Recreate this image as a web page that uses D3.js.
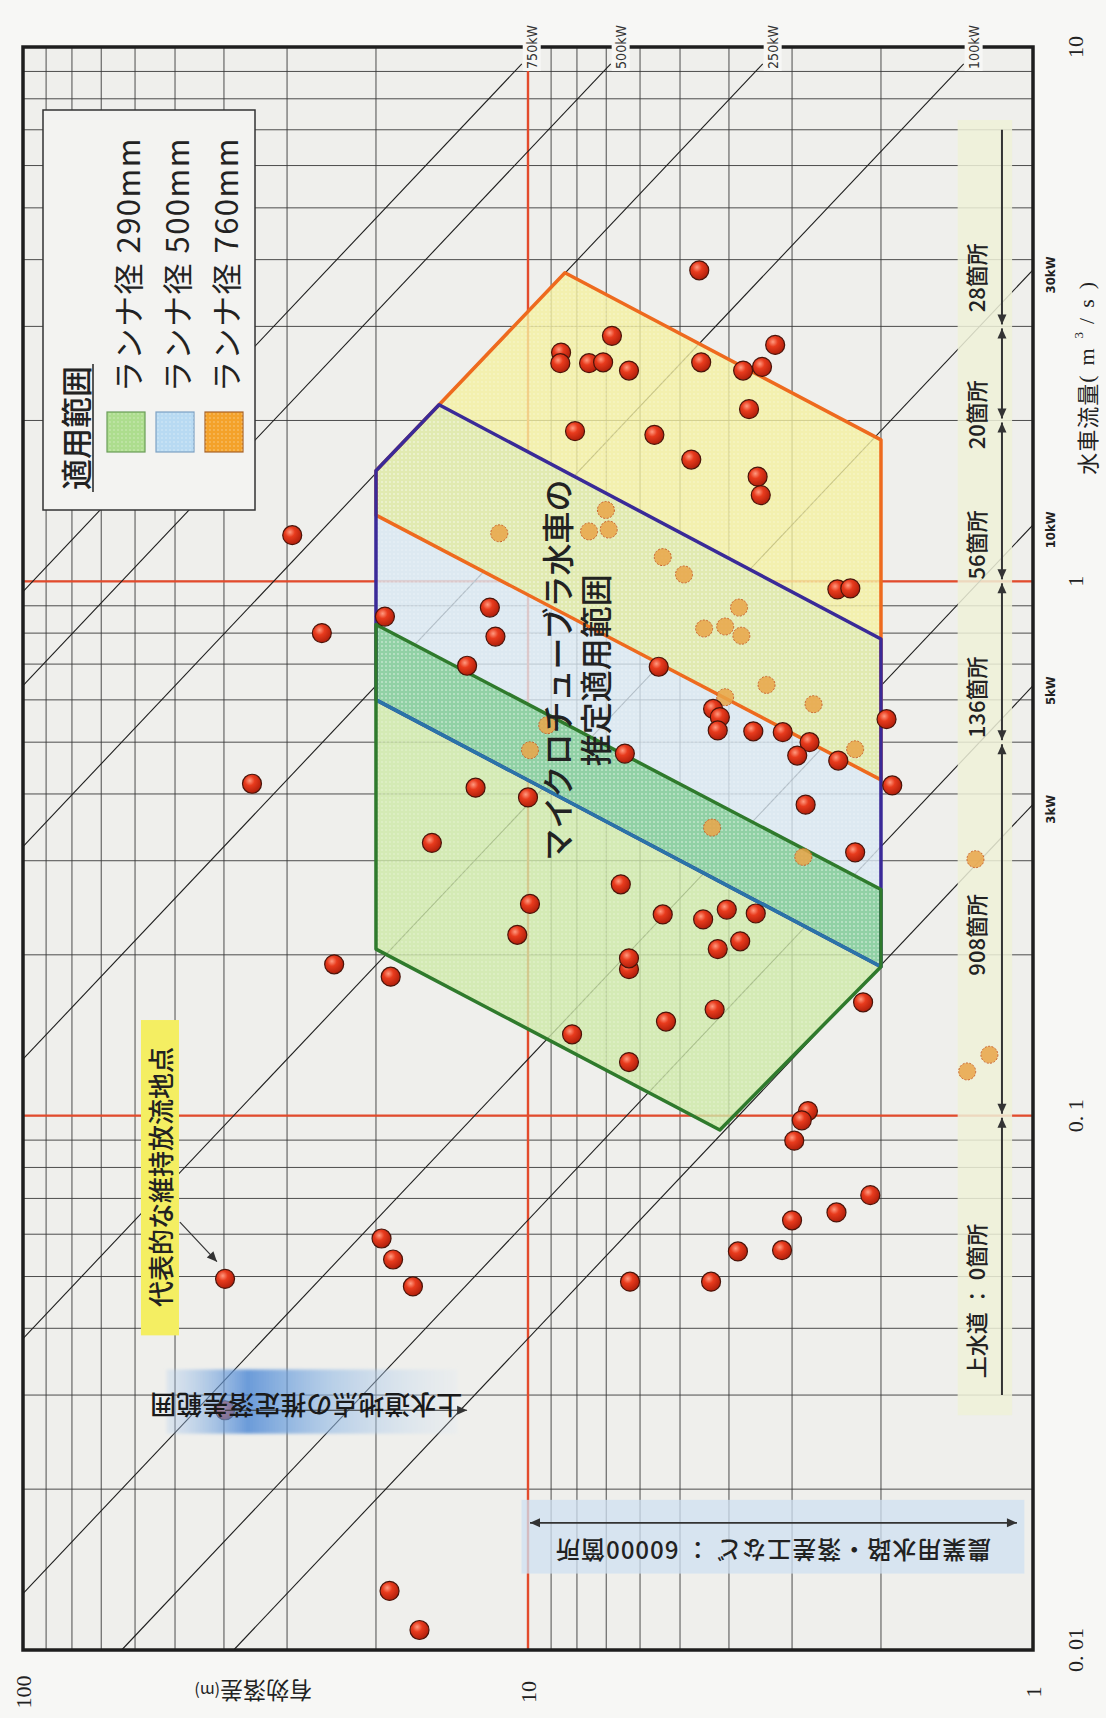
<!DOCTYPE html>
<html>
<head>
<meta charset="utf-8">
<script src="https://cdn.jsdelivr.net/npm/d3@7"></script>
<style>
  body { margin: 0; background: #f7f7f5; }
  svg { display: block; }
</style>
</head>
<body>
<svg id="chart" width="1106" height="1718"></svg>
<script>
// ---- data: head H (m), flow Q (m3/s) ----
const flowTicks = [10, 1, 0.1, 0.01];
const flowTickLabels = ["10", "1", "0. 1", "0. 01"];
const headTicks = [100, 10, 1];
const headTickLabels = ["100", "10", "1"];
const flowRedLines = [1, 0.1];
const headRedLines = [10];

// iso-power lines, P = 9.8 * 0.8 * Q * H
const powerValues = [750, 500, 250, 100, 30, 10, 5, 3];
const powerLabels = ["750kW", "500kW", "250kW", "100kW", "30kW", "10kW", "5kW", "3kW"];

// runner ranges, vertices as [H, Q]
const area760 = [[20, 1.33], [20, 1.61], [15, 2.14], [8.45, 3.78], [2, 1.84], [2, 0.425]];
const area500 = [[20, 1.61], [15, 2.14], [2, 0.78], [2, 0.19], [20, 0.60]];
const area290 = [[20, 0.83], [2, 0.265], [2, 0.19], [4.17, 0.094], [20, 0.205]];
const overlap760_500 = [[20, 1.33], [20, 1.61], [15, 2.14], [2, 0.78], [2, 0.425]];
const overlap290_500 = [[20, 0.83], [2, 0.265], [2, 0.19], [20, 0.60]];
const legendNames = ["ランナ径 290mm", "ランナ径 500mm", "ランナ径 760mm"];

// surveyed sites [H, Q]
const sitePoints = [
  [29.3, 1.22], [25.6, 0.80], [35.2, 0.418], [24.2, 0.192], [18.7, 0.182],
  [19.5, 0.0589], [18.5, 0.0538], [16.9, 0.0479], [39.8, 0.0495], [39.8, 0.0281],
  [18.8, 0.0129], [16.4, 0.0109], [4.58, 3.82], [6.82, 2.88], [8.60, 2.68],
  [8.63, 2.56], [7.57, 2.56], [7.10, 2.57], [6.31, 2.48], [4.54, 2.57],
  [3.75, 2.48], [3.44, 2.52], [3.24, 2.77], [3.65, 2.10], [8.07, 1.91],
  [5.62, 1.88], [4.75, 1.69], [3.51, 1.57], [3.46, 1.45], [2.44, 0.966],
  [2.30, 0.97], [19.2, 0.859], [11.9, 0.893], [11.6, 0.788], [13.2, 0.695],
  [12.7, 0.411], [10.0, 0.394], [15.5, 0.324], [9.91, 0.249], [10.5, 0.218],
  [5.51, 0.692], [4.30, 0.577], [4.17, 0.557], [4.21, 0.526], [3.58, 0.524],
  [3.13, 0.522], [2.77, 0.500], [2.93, 0.472], [2.43, 0.462], [1.95, 0.552],
  [1.90, 0.415], [6.43, 0.476], [2.82, 0.382], [2.25, 0.311], [6.55, 0.271],
  [5.41, 0.238], [4.50, 0.233], [4.04, 0.243], [3.54, 0.239], [6.31, 0.188],
  [6.31, 0.197], [8.18, 0.142], [6.31, 0.126], [6.28, 0.0489], [3.80, 0.212],
  [4.21, 0.205], [4.27, 0.158], [5.33, 0.150], [2.17, 0.163], [2.79, 0.102],
  [2.87, 0.098], [2.97, 0.0898], [2.10, 0.0710], [2.45, 0.0659], [3.00, 0.0637],
  [3.84, 0.0557], [3.14, 0.0560], [4.34, 0.0489]
];
const shadedPoints = [
  [11.4, 1.23], [7.01, 1.36], [7.57, 1.24], [6.92, 1.25], [5.41, 1.11],
  [4.91, 1.03], [9.16, 0.538], [9.91, 0.483], [3.82, 0.893], [4.48, 0.816],
  [4.07, 0.823], [3.78, 0.791], [3.37, 0.640], [4.07, 0.607], [2.72, 0.589],
  [2.25, 0.485], [4.32, 0.346], [2.85, 0.305], [1.30, 0.302], [1.22, 0.130],
  [1.35, 0.121]
];

// site counts by flow class
const countBounds = [7, 3, 2, 1, 0.5, 0.1, 0.03];
const countLabels = ["28箇所", "20箇所", "56箇所", "136箇所", "908箇所", "上水道 ： 0箇所"];
const countLabelFlow = [3.7, 2.05, 1.17, 0.607, 0.218, 0.045];

// ---------------------------------------------------------------------------
const k = 9.8 * 0.8;
const cjk = "'Noto Sans CJK JP', 'Noto Sans', sans-serif";
const serif = "'Liberation Serif', 'DejaVu Serif', serif";
const narrow = "'Liberation Sans Narrow', 'DejaVu Sans Condensed', sans-serif";

const svg = d3.select("#chart");
const x = d3.scaleLog().domain([100, 1]).range([23, 1033]);
const y = d3.scaleLog().domain([10, 0.01]).range([47, 1650]);
const pt = d => [x(d[0]), y(d[1])];
const polyPath = d => "M" + d.map(p => pt(p).join(",")).join("L") + "Z";

const defs = svg.append("defs");
let rg = defs.append("radialGradient").attr("id", "redDot").attr("cx", "38%").attr("cy", "34%").attr("r", "65%");
rg.append("stop").attr("offset", "0%").attr("stop-color", "#ff9a80");
rg.append("stop").attr("offset", "40%").attr("stop-color", "#e83b1d");
rg.append("stop").attr("offset", "100%").attr("stop-color", "#b3200c");

defs.append("marker").attr("id", "arrow")
  .attr("viewBox", "0 -5 10 10").attr("refX", 10).attr("refY", 0)
  .attr("markerUnits", "userSpaceOnUse").attr("markerWidth", 11).attr("markerHeight", 10)
  .attr("orient", "auto-start-reverse")
  .append("path").attr("d", "M0,-4.5L10,0L0,4.5Z").attr("fill", "#333");

let bg = defs.append("linearGradient").attr("id", "blueBand");
bg.append("stop").attr("offset", "0%").attr("stop-color", "#b5d0ee").attr("stop-opacity", 0.3);
bg.append("stop").attr("offset", "28%").attr("stop-color", "#4a86d4").attr("stop-opacity", 0.8);
bg.append("stop").attr("offset", "55%").attr("stop-color", "#8db6e4").attr("stop-opacity", 0.6);
bg.append("stop").attr("offset", "100%").attr("stop-color", "#d8e6f4").attr("stop-opacity", 0.2);
defs.append("filter").attr("id", "soft").append("feGaussianBlur").attr("stdDeviation", 1.5);

let dots = defs.append("pattern").attr("id", "dots").attr("width", 4).attr("height", 4)
  .attr("patternUnits", "userSpaceOnUse");
dots.append("circle").attr("cx", 2).attr("cy", 2).attr("r", 0.7).attr("fill", "#fff").attr("opacity", 0.5);

function rtext(g, px, py, angle, str, size, opts = {}) {
  return g.append("text")
    .attr("transform", `translate(${px},${py}) rotate(${angle})`)
    .attr("text-anchor", opts.anchor || "middle")
    .attr("dominant-baseline", "central")
    .attr("font-size", size)
    .attr("font-family", opts.family || cjk)
    .attr("font-weight", opts.weight || 400)
    .attr("fill", opts.fill || "#222")
    .text(str);
}

const [x0, x1] = x.range(), [y1, y0] = y.range();

// plot background
svg.append("rect").attr("x", x0).attr("y", y1).attr("width", x1 - x0).attr("height", y0 - y1)
  .attr("fill", "#efefec");

// grid
const grid = svg.append("g").attr("stroke", "#3a3a3a").attr("stroke-width", 0.9);
grid.selectAll("line.h").data(x.ticks().filter(v => v > 1 && v < 100)).join("line")
  .attr("x1", d => x(d)).attr("x2", d => x(d)).attr("y1", y1).attr("y2", y0);
grid.selectAll("line.q").data(y.ticks().filter(v => v > 0.01 && v < 10)).join("line")
  .attr("x1", x0).attr("x2", x1).attr("y1", d => y(d)).attr("y2", d => y(d));

// red reference lines
const red = svg.append("g").attr("stroke", "#e34b2c").attr("stroke-width", 2.4);
red.selectAll("line.v").data(headRedLines).join("line")
  .attr("x1", d => x(d)).attr("x2", d => x(d)).attr("y1", y1).attr("y2", y0);
red.selectAll("line.f").data(flowRedLines).join("line")
  .attr("x1", x0).attr("x2", x1).attr("y1", d => y(d)).attr("y2", d => y(d));

// iso-power lines
function powerSegment(p) {
  const qLeft = p / (k * 100);
  const start = qLeft >= 0.01 ? [100, qLeft] : [p / (k * 0.01), 0.01];
  const qRight = p / k;
  const end = qRight <= 10 ? [1, qRight] : [p / (k * 9.3), 9.3];
  return [start, end];
}
svg.append("g").attr("stroke", "#1e1e1e").attr("stroke-width", 1.1)
  .selectAll("line").data(powerValues).join("line")
  .each(function (p) {
    const [s, e] = powerSegment(p);
    d3.select(this).attr("x1", x(s[0])).attr("y1", y(s[1])).attr("x2", x(e[0])).attr("y2", y(e[1]));
  });

// runner range areas
const areas = svg.append("g");
areas.append("path").attr("d", polyPath(area760)).attr("fill", "#f4f0a0").attr("opacity", 0.8);
areas.append("path").attr("d", polyPath(area500)).attr("fill", "#d8e7f3").attr("opacity", 0.8);
areas.append("path").attr("d", polyPath(area290)).attr("fill", "#cde8a8").attr("opacity", 0.8);
areas.append("path").attr("d", polyPath(overlap760_500)).attr("fill", "#e2eaa8").attr("opacity", 0.85);
areas.append("path").attr("d", polyPath(overlap290_500)).attr("fill", "#86cca2").attr("opacity", 0.85);
[area760, area500, area290].forEach(a =>
  areas.append("path").attr("d", polyPath(a)).attr("fill", "url(#dots)"));

// right strip behind the site counts
svg.append("rect").attr("x", x(1.41)).attr("y", y(7.3))
  .attr("width", x(1.1) - x(1.41)).attr("height", y(0.0275) - y(7.3))
  .attr("fill", "#eef1d8").attr("opacity", 0.85);

// shaded points (under the outlines)
svg.append("g").selectAll("circle").data(shadedPoints).join("circle")
  .attr("cx", d => x(d[0])).attr("cy", d => y(d[1])).attr("r", 8.5)
  .attr("fill", "#e9a548").attr("fill-opacity", 0.85)
  .attr("stroke", "#c9602a").attr("stroke-width", 1).attr("stroke-dasharray", "2,1.5");

// outlines
areas.append("path").attr("d", polyPath(area760)).attr("fill", "none")
  .attr("stroke", "#ee6a1e").attr("stroke-width", 3.5).attr("stroke-linejoin", "round");
areas.append("path").attr("d", polyPath(area500)).attr("fill", "none")
  .attr("stroke", "#3a2a98").attr("stroke-width", 3.5).attr("stroke-linejoin", "round");
areas.append("line")
  .attr("x1", x(area500[3][0])).attr("y1", y(area500[3][1]))
  .attr("x2", x(area500[4][0])).attr("y2", y(area500[4][1]))
  .attr("stroke", "#2a74a8").attr("stroke-width", 3.5);
areas.append("path").attr("d", polyPath(area290)).attr("fill", "none")
  .attr("stroke", "#2f7a2c").attr("stroke-width", 3.5).attr("stroke-linejoin", "round");

// surveyed sites
svg.append("g").selectAll("circle").data(sitePoints).join("circle")
  .attr("cx", d => x(d[0])).attr("cy", d => y(d[1])).attr("r", 9.5)
  .attr("fill", "url(#redDot)").attr("stroke", "#4a140a").attr("stroke-width", 1.2);

// area caption
const cap = svg.append("g");
rtext(cap, x(8.07) - 19, y(0.682), -90, "マイクロチューブラ水車の", 32, { weight: 500 });
rtext(cap, x(8.07) + 19, y(0.682), -90, "推定適用範囲", 32, { weight: 500 });

// water-supply head range (upside down note)
const ann = svg.append("g");
ann.append("rect").attr("x", x(52)).attr("y", y(0.0335))
  .attr("width", x(13.8) - x(52)).attr("height", y(0.0254) - y(0.0335))
  .attr("fill", "url(#blueBand)").attr("filter", "url(#soft)");
ann.append("line").attr("x1", x(39.8)).attr("x2", x(13.2)).attr("y1", y(0.0281)).attr("y2", y(0.0281))
  .attr("stroke", "#333").attr("stroke-width", 1.2).attr("marker-end", "url(#arrow)");
rtext(ann, x(27.5), y(0.0285), 180, "上水道地点の推定落差範囲", 26, { weight: 500, fill: "#1a1a1a" });

// representative maintenance-flow point
ann.append("rect").attr("x", x(58.4)).attr("y", y(0.151))
  .attr("width", x(49.1) - x(58.4)).attr("height", y(0.0388) - y(0.151))
  .attr("fill", "#f4ee62");
rtext(ann, x(53.6), y(0.0768), -90, "代表的な維持放流地点", 26, { weight: 500 });
ann.append("line").attr("x1", x(48.9)).attr("y1", y(0.0632)).attr("x2", x(41.3)).attr("y2", y(0.0533))
  .attr("stroke", "#333").attr("stroke-width", 1.2).attr("marker-end", "url(#arrow)");

// agricultural canals note
ann.append("rect").attr("x", x(10.3)).attr("y", y(0.0191))
  .attr("width", x(1.04) - x(10.3)).attr("height", y(0.0139) - y(0.0191))
  .attr("fill", "#cfe0f2").attr("opacity", 0.75);
ann.append("line").attr("x1", x(10) + 2).attr("x2", x(1.076)).attr("y1", y(0.0173)).attr("y2", y(0.0173))
  .attr("stroke", "#333").attr("stroke-width", 1.8)
  .attr("marker-start", "url(#arrow)").attr("marker-end", "url(#arrow)");
rtext(ann, x(3.27), y(0.0153), 180, "農業用水路・落差工など ： 60000箇所", 24, { weight: 500 })
  .attr("letter-spacing", 1);

// site counts by flow class
const cnt = svg.append("g");
d3.range(countLabels.length).forEach(i => {
  const top = countBounds[i], bot = countBounds[i + 1];
  const ln = cnt.append("line")
    .attr("x1", x(1.152)).attr("x2", x(1.152))
    .attr("y1", y(top) + (i > 0 ? 2 : 0)).attr("y2", y(bot) - (i < countLabels.length - 1 ? 2 : 0))
    .attr("stroke", "#333").attr("stroke-width", 2);
  if (i > 0) ln.attr("marker-start", "url(#arrow)");
  if (i < countLabels.length - 1) ln.attr("marker-end", "url(#arrow)");
  rtext(cnt, x(1.30), y(countLabelFlow[i]), -90, countLabels[i], 22, { weight: 500 });
});

// legend
const lg = svg.append("g");
lg.append("rect").attr("x", 43).attr("y", 110).attr("width", 212).attr("height", 400)
  .attr("fill", "#f3f3f1").attr("stroke", "#333").attr("stroke-width", 1.5);
rtext(lg, 74, 428, -90, "適用範囲", 31, { weight: 500 });
lg.append("line").attr("x1", 93).attr("x2", 93).attr("y1", 364).attr("y2", 492)
  .attr("stroke", "#222").attr("stroke-width", 1.5);
const swatchFill = ["#addd8e", "#b8daf2", "#f4a22a"];
const swatchStroke = ["#6a9d58", "#7ea2c4", "#a8642a"];
legendNames.forEach((name, i) => {
  const cx = 126 + i * 49;
  lg.append("rect").attr("x", cx - 19).attr("y", 412).attr("width", 38).attr("height", 40)
    .attr("fill", swatchFill[i]).attr("stroke", swatchStroke[i]).attr("stroke-width", 1.2);
  lg.append("rect").attr("x", cx - 19).attr("y", 412).attr("width", 38).attr("height", 40)
    .attr("fill", "url(#dots)");
  rtext(lg, cx, 392, -90, name, 31, { anchor: "start" }).attr("letter-spacing", 1.5);
});

// frame
svg.append("rect").attr("x", x0).attr("y", y1).attr("width", x1 - x0).attr("height", y0 - y1)
  .attr("fill", "none").attr("stroke", "#1e1e1e").attr("stroke-width", 3.5);

// power labels
const pl = svg.append("g");
powerValues.forEach((p, i) => {
  if (p / k > 10) {
    const lx = x(p / (k * 10)) - 6;
    pl.append("rect").attr("x", lx - 9).attr("y", y1 - 24).attr("width", 18).attr("height", 48)
      .attr("fill", "#f7f7f5");
    rtext(pl, lx, y1, -90, powerLabels[i], 14, { family: narrow, fill: "#333" });
  } else {
    rtext(pl, x1 + 17, y(p / k) + 5, -90, powerLabels[i], 13, { family: narrow, weight: 700, fill: "#222" });
  }
});

// axis tick labels
const ax = svg.append("g");
flowTicks.forEach((q, i) => rtext(ax, x1 + 42, y(q), -90, flowTickLabels[i], 22, { family: serif }));
headTicks.forEach((h, i) => rtext(ax, x(h), y0 + 42, -90, headTickLabels[i], 22, { family: serif }));

// axis titles
const t1 = ax.append("text")
  .attr("transform", `translate(${x1 + 53},${y(2.45)}) rotate(-90)`)
  .attr("text-anchor", "middle").attr("dominant-baseline", "central")
  .attr("font-family", cjk).attr("font-size", 22).attr("fill", "#222");
t1.append("tspan").attr("letter-spacing", 1).text("水車流量");
t1.append("tspan").attr("font-family", serif).attr("letter-spacing", 10).text("(m");
t1.append("tspan").attr("font-family", serif).attr("font-size", 13).attr("dy", -8).attr("letter-spacing", 8).text("3");
t1.append("tspan").attr("font-family", serif).attr("letter-spacing", 10).attr("dy", 8).text("/s)");

const t2 = ax.append("text")
  .attr("transform", `translate(${x(35)},${y0 + 42}) rotate(180)`)
  .attr("text-anchor", "middle").attr("dominant-baseline", "central")
  .attr("font-family", cjk).attr("font-size", 23).attr("fill", "#222");
t2.append("tspan").text("有効落差");
t2.append("tspan").attr("font-size", 16).text("(m)");
</script>
</body>
</html>
